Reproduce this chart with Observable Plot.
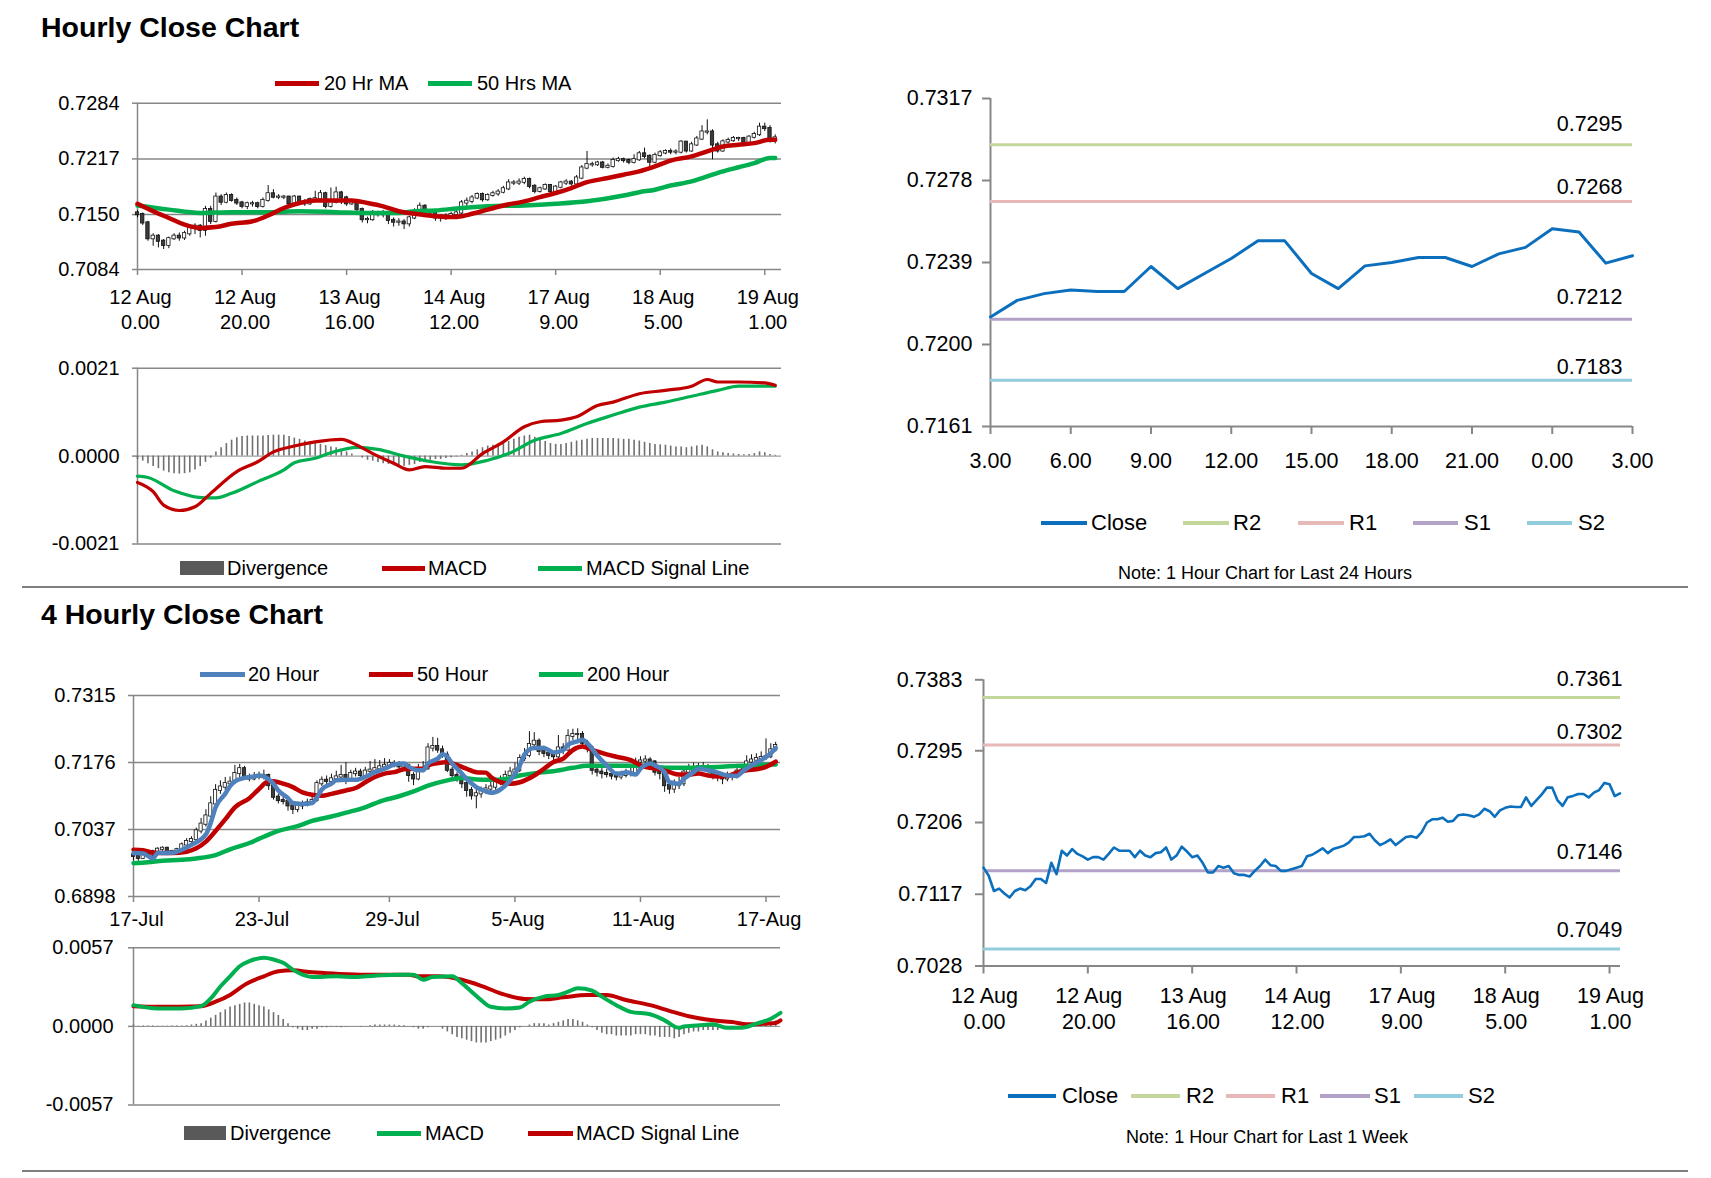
<!DOCTYPE html>
<html><head><meta charset="utf-8">
<script src="https://cdn.jsdelivr.net/npm/d3@7"></script>
<script src="https://cdn.jsdelivr.net/npm/@observablehq/plot@0.6"></script>
<style>
body{margin:0;background:#fff;}
#root{position:relative;width:1711px;height:1178px;overflow:hidden;font-family:"Liberation Sans",Arial,sans-serif;color:#000;background:#fff;}
.t{position:absolute;white-space:nowrap;}
</style></head><body><div id="root"></div><script>
// ---------------- DATA ----------------
// Hourly (1h bars, 12 Aug 0.00 -> 19 Aug 3.00)
const hourlyTickIdx = [0,20,40,60,80,100,120];
const hourlyTickDay = ["12 Aug","12 Aug","13 Aug","14 Aug","17 Aug","18 Aug","19 Aug"];
const hourlyTickTime = ["0.00","20.00","16.00","12.00","9.00","5.00","1.00"];
const hourlyFirstOpen = 0.7152;
const hourlyClose = [
0.7150,0.7140,0.7121,0.7124,0.7118,0.7113,0.7121,0.7124,0.7122,0.7127,
0.7136,0.7136,0.7131,0.7156,0.7142,0.7171,0.7165,0.7173,0.7167,0.7164,
0.7160,0.7163,0.7163,0.7160,0.7167,0.7175,0.7171,0.7171,0.7171,0.7163,
0.7171,0.7165,0.7163,0.7168,0.7169,0.7175,0.7160,0.7165,0.7176,0.7170,
0.7163,0.7165,0.7156,0.7144,0.7144,0.7152,0.7150,0.7152,0.7143,0.7141,
0.7141,0.7139,0.7146,0.7152,0.7160,0.7153,0.7152,0.7146,0.7146,0.7148,
0.7150,0.7152,0.7164,0.7166,0.7170,0.7174,0.7168,0.7173,0.7175,0.7177,
0.7181,0.7188,0.7188,0.7189,0.7192,0.7184,0.7178,0.7181,0.7185,0.7178,
0.7183,0.7188,0.7189,0.7187,0.7194,0.7206,0.7210,0.7210,0.7212,0.7207,
0.7208,0.7215,0.7216,0.7215,0.7213,0.7216,0.7223,0.7220,0.72131,0.72210,
0.72242,0.72259,0.72252,0.72252,0.72371,0.72266,0.72338,0.72409,0.72493,0.72493,
0.72338,0.72266,0.72374,0.7239,0.72414,0.72414,0.72371,0.72431,0.72462,0.72551,
0.72535,0.72387,0.72422];
const hourlyHigh = [
.7155,.7152,.7142,.7127,.7126,.7120,.7123,.7127,.7128,.7130,
.7138,.7139,.7138,.7160,.7160,.7176,.7174,.7176,.7175,.7170,
.7166,.7165,.7166,.7165,.7170,.7185,.7180,.7174,.7173,.7172,
.7173,.7172,.7168,.7170,.7178,.7179,.7177,.7182,.7183,.7178,
.7172,.7167,.7167,.7158,.7147,.7155,.7154,.7155,.7154,.7146,
.7145,.7144,.7148,.7157,.7164,.7162,.7156,.7154,.7150,.7151,
.7153,.7156,.7167,.7170,.7173,.7176,.7176,.7175,.7178,.7180,
.7184,.7192,.7191,.7193,.7195,.7194,.7186,.7183,.7187,.7186,
.7185,.7190,.7192,.7191,.7197,.7209,.7226,.7213,.7214,.7214,
.7211,.7218,.7219,.7218,.7217,.7222,.7226,.7230,.7222,.7224,
.7227,.7228,.7229,.7228,.7239,.7238,.7237,.7244,.7257,.7264,
.7252,.7237,.7240,.7242,.7244,.7243,.7243,.7245,.7249,.7260,
.7260,.7257,.7246];
const hourlyLow = [
.7146,.7137,.7118,.7112,.7110,.7108,.7109,.7119,.7118,.7119,
.7124,.7126,.7122,.7124,.7138,.7140,.7161,.7163,.7165,.7161,
.7157,.7156,.7159,.7157,.7158,.7165,.7169,.7168,.7168,.7160,
.7161,.7162,.7160,.7161,.7165,.7166,.7157,.7158,.7163,.7162,
.7160,.7161,.7152,.7140,.7139,.7142,.7147,.7146,.7138,.7135,
.7136,.7132,.7135,.7144,.7150,.7150,.7148,.7142,.7141,.7143,
.7146,.7147,.7150,.7160,.7163,.7168,.7165,.7166,.7171,.7172,
.7175,.7179,.7185,.7185,.7186,.7181,.7175,.7176,.7179,.7172,
.7176,.7181,.7185,.7184,.7185,.7192,.7204,.7207,.7208,.7205,
.7205,.7206,.7213,.7212,.7210,.7211,.7214,.7217,.7205,.7211,
.7219,.7222,.7222,.7222,.7223,.7224,.7225,.7232,.7239,.7246,
.7216,.7224,.7225,.7235,.7237,.7238,.7234,.7235,.7241,.7244,
.7250,.7236,.7235];
const ma20hIdx = [0,3,6,9,12,15,18,22,25,28,31,34,38,41,44,47,50,53,57,60,62,64,67,70,74,77,80,83,86,90,93,96,99,102,106,109,112,115,118,121,122];
const ma20hVal = [0.7163,0.7154,0.7146,0.7138,0.7134,0.7135,0.7139,0.7142,0.7149,0.7158,0.7164,0.7167,0.7167,0.7167,0.7164,0.7160,0.7154,0.7151,0.7148,0.7147,0.7148,0.7151,0.7156,0.7161,0.7166,0.7171,0.7176,0.7182,0.7189,0.7194,0.7198,0.7202,0.7208,0.7215,0.7220,0.7226,0.7232,0.7234,0.7236,0.7240,0.7240];
const ma50hIdx = [0,6,12,18,25,31,38,44,50,53,57,62,67,74,80,86,93,96,99,102,106,109,112,115,118,121,122];
const ma50hVal = [0.7161,0.7156,0.7152,0.7153,0.7153,0.7154,0.7153,0.7152,0.7152,0.7154,0.7155,0.7158,0.7160,0.7161,0.7163,0.7166,0.7173,0.7177,0.7180,0.7185,0.7190,0.7196,0.7202,0.7207,0.7212,0.7218,0.7218];
const macdHIdx = [0,3,5,8,11,14,19,23,26,30,34,39,42,45,49,52,55,59,62,66,70,74,77,81,84,88,91,96,101,106,109,111,115,120,122];
const macdHVal = [-0.00063,-0.00085,-0.00117,-0.0013,-0.00121,-0.00089,-0.00037,-0.000135,0.0001,0.00024,0.00034,0.0004,0.00026,0.00006,-0.00017,-0.00033,-0.00025,-0.00029,-0.00029,0.00006,0.00034,0.0007,0.00082,0.00086,0.00094,0.00121,0.00129,0.00149,0.00157,0.00167,0.00183,0.00177,0.00177,0.00175,0.00169];
const signalHIdx = [0,2,7,13,15,18,23,28,30,34,37,42,46,51,56,62,67,71,76,81,86,91,96,101,106,111,115,122];
const signalHVal = [-0.00048,-0.00051,-0.00083,-0.001,-0.001,-0.00089,-0.00061,-0.00033,-0.00016,-0.00005,0.00008,0.00021,0.00016,0,-0.00013,-0.00021,-0.0001,0.00006,0.00038,0.00054,0.00078,0.00098,0.00117,0.00129,0.00143,0.00157,0.00167,0.00167];
const divH = [
-0.00008,-0.00012,-0.00018,-0.00025,-0.0003,-0.00036,-0.0004,-0.00042,-0.00043,-0.00042,
-0.0004,-0.00033,-0.00025,-0.00015,-0.00005,0.0001,0.0002,0.0003,0.00038,0.00044,
0.00047,0.00048,0.00048,0.00048,0.00048,0.00049,0.0005,0.0005,0.0005,0.00047,
0.00043,0.0004,0.00036,0.00033,0.0003,0.00028,0.00025,0.00022,0.0002,0.00015,
0.0001,0.00005,0,-0.00005,-0.0001,-0.00012,-0.00015,-0.00018,-0.0002,-0.00023,
-0.00025,-0.00025,-0.00022,-0.0002,-0.00015,-0.00012,-0.0001,-0.00008,-0.00008,-0.00006,
-0.00004,-0.00002,0.00002,0.00006,0.0001,0.00015,0.0002,0.00024,0.00026,0.00028,
0.0003,0.00035,0.0004,0.00045,0.00048,0.0005,0.00045,0.0004,0.00035,0.0003,
0.00028,0.00028,0.0003,0.00033,0.00036,0.00038,0.0004,0.00042,0.00042,0.00042,
0.00042,0.00042,0.00041,0.0004,0.0004,0.00038,0.00036,0.00033,0.0003,0.00028,
0.00027,0.00026,0.00024,0.00022,0.00022,0.0002,0.00022,0.00024,0.00026,0.00022,
0.00015,0.0001,0.00008,0.00006,0.00005,0.00004,0.00003,0.00004,0.00006,0.0001,
0.00008,0.00004,0.00002];
// 24h chart
const ticks24Label = ["3.00","6.00","9.00","12.00","15.00","18.00","21.00","0.00","3.00"];
const levels24 = [{name:"R2",v:0.7295},{name:"R1",v:0.7268},{name:"S1",v:0.7212},{name:"S2",v:0.7183}];
const levelsWeek = [{name:"R2",v:0.7361},{name:"R1",v:0.7302},{name:"S1",v:0.7146},{name:"S2",v:0.7049}];
// 4-hour bars (17 Jul -> 17 Aug)
const h4TickIdx = [0,26,53,79,105,131];
const h4TickLabel = ["17-Jul","23-Jul","29-Jul","5-Aug","11-Aug","17-Aug"];
const h4FirstOpen = 0.6984;
const h4Close = [
0.6981,0.6977,0.6987,0.6984,0.6991,0.6996,0.6998,0.6991,0.6988,0.6995,
0.7005,0.7012,0.7016,0.7034,0.7048,0.7065,0.7090,0.7118,0.7125,0.7132,
0.7135,0.7153,0.7163,0.7146,0.7142,0.7146,0.7148,0.7149,0.7128,0.7104,
0.7097,0.7095,0.7086,0.7079,0.7086,0.7089,0.7092,0.7097,0.7132,0.7139,
0.7137,0.7142,0.7146,0.7149,0.7139,0.7153,0.7156,0.7149,0.7158,0.7160,
0.7163,0.7167,0.7170,0.7174,0.7172,0.7167,0.7170,0.7149,0.7142,0.7160,
0.7163,0.7206,0.7209,0.7202,0.7191,0.7160,0.7149,0.7146,0.7132,0.7118,
0.7107,0.7111,0.7118,0.7121,0.7125,0.7135,0.7139,0.7149,0.7156,0.7160,
0.7184,0.7191,0.7213,0.7220,0.7199,0.7195,0.7191,0.7188,0.7206,0.7202,
0.7230,0.7234,0.7234,0.7216,0.7206,0.7160,0.7156,0.7153,0.7151,0.7148,
0.7146,0.7149,0.7153,0.7155,0.7177,0.7179,0.7181,0.7177,0.7156,0.7153,
0.7128,0.7121,0.7128,0.7132,0.7156,0.7160,0.7163,0.7167,0.7167,0.7163,
0.7149,0.7146,0.7142,0.7148,0.7146,0.7158,0.7160,0.7177,0.7181,0.7184,
0.7186,0.7188,0.7202,0.7211];
const h4High = [
.6988,.6984,.6990,.6992,.6994,.6999,.7001,.7000,.6994,.6998,
.7009,.7018,.7022,.7040,.7060,.7078,.7105,.7130,.7138,.7145,
.7146,.7170,.7172,.7168,.7152,.7155,.7156,.7160,.7152,.7132,
.7110,.7104,.7100,.7092,.7094,.7096,.7100,.7110,.7138,.7146,
.7148,.7152,.7158,.7170,.7176,.7160,.7164,.7162,.7166,.7178,
.7182,.7180,.7184,.7182,.7180,.7178,.7176,.7172,.7155,.7172,
.7178,.7215,.7228,.7226,.7210,.7198,.7166,.7155,.7150,.7138,
.7124,.7120,.7125,.7130,.7136,.7142,.7148,.7158,.7166,.7175,
.7192,.7205,.7240,.7238,.7225,.7210,.7203,.7198,.7232,.7215,
.7244,.7245,.7246,.7240,.7222,.7210,.7168,.7165,.7162,.7158,
.7155,.7158,.7162,.7166,.7185,.7188,.7190,.7186,.7180,.7162,
.7156,.7135,.7140,.7145,.7166,.7172,.7175,.7174,.7176,.7172,
.7168,.7155,.7152,.7156,.7155,.7165,.7170,.7190,.7192,.7194,
.7198,.7225,.7215,.7218];
const h4Low = [
.6972,.6971,.6975,.6979,.6981,.6988,.6992,.6987,.6983,.6985,
.6992,.7001,.7008,.7012,.7028,.7042,.7060,.7085,.7110,.7118,
.7124,.7130,.7140,.7140,.7136,.7138,.7140,.7140,.7118,.7098,
.7090,.7088,.7075,.7068,.7072,.7078,.7084,.7088,.7094,.7126,
.7130,.7132,.7136,.7140,.7130,.7135,.7146,.7142,.7145,.7152,
.7155,.7158,.7160,.7164,.7165,.7160,.7158,.7135,.7128,.7138,
.7155,.7160,.7198,.7195,.7185,.7155,.7142,.7135,.7122,.7104,
.7098,.7080,.7102,.7110,.7115,.7118,.7128,.7132,.7142,.7150,
.7155,.7178,.7186,.7205,.7190,.7186,.7182,.7178,.7182,.7192,
.7198,.7222,.7220,.7206,.7196,.7150,.7146,.7142,.7144,.7140,
.7138,.7140,.7144,.7146,.7150,.7170,.7172,.7168,.7148,.7140,
.7114,.7110,.7112,.7120,.7126,.7150,.7152,.7156,.7158,.7154,
.7140,.7136,.7130,.7136,.7138,.7142,.7152,.7156,.7172,.7176,
.7178,.7180,.7184,.7198];
const ma20_4hIdx = [0,2,4,5,8,10,12,15,16,17,19,20,21,23,25,26,28,29,30,32,33,35,37,38,39,41,42,44,46,48,50,52,54,56,57,59,60,61,63,64,65,66,68,69,71,73,74,76,78,80,81,83,85,87,89,90,92,93,94,96,98,100,101,102,104,105,107,108,110,111,113,114,116,117,119,121,123,125,126,128,130,132,133];
const ma20_4hVal = [.6988,.6987,.6977,.6988,.6989,.6995,.7005,.7027,.7051,.7083,.7111,.7127,.7137,.7144,.7147,.7149,.7141,.7132,.7118,.7102,.7092,.7090,.7092,.7104,.7120,.7132,.7139,.7140,.7140,.7146,.7156,.7163,.7172,.7174,.7167,.7160,.7160,.7174,.7184,.7193,.7188,.7174,.7153,.7142,.7125,.7116,.7113,.7120,.7139,.7170,.7193,.7206,.7206,.7197,.7202,.7213,.7220,.7223,.7216,.7191,.7170,.7153,.7153,.7156,.7151,.7163,.7174,.7170,.7156,.7135,.7132,.7142,.7156,.7163,.7160,.7155,.7149,.7148,.7156,.7170,.7181,.7195,.7206];
const ma50_4hIdx = [0,2,4,8,11,13,15,17,19,21,24,26,28,29,31,33,35,37,39,41,44,46,48,50,52,54,56,58,60,61,64,65,66,68,69,71,73,74,76,78,80,83,85,87,89,91,93,94,96,98,100,103,105,107,109,111,113,115,117,119,121,123,125,127,129,131,133];
const ma50_4hVal = [.6995,.6994,.6989,.6988,.6991,.6998,.7012,.7034,.7058,.7083,.7102,.7121,.7137,.7137,.7132,.7125,.7114,.7109,.7107,.7111,.7118,.7123,.7135,.7146,.7153,.7156,.7162,.7163,.7163,.7170,.7176,.7177,.7174,.7167,.7163,.7156,.7155,.7146,.7135,.7132,.7135,.7149,.7163,.7177,.7184,.7202,.7209,.7206,.7199,.7193,.7188,.7181,.7170,.7165,.7162,.7156,.7151,.7151,.7153,.7149,.7147,.7148,.7155,.7160,.7162,.7167,.7178];
const ma200_4hIdx = [0,3,6,10,13,17,20,24,27,30,34,37,41,44,48,51,55,58,61,65,68,70,74,77,80,84,87,91,94,98,101,105,108,111,115,118,122,125,129,132,133];
const ma200_4hVal = [.6967,.6969,.6972,.6974,.6977,.6984,.6996,.7009,.7022,.7034,.7044,.7055,.7064,.7072,.7083,.7095,.7106,.7116,.7128,.7139,.7144,.7142,.7140,.7142,.7149,.7155,.7158,.7165,.7169,.7169,.7169,.7169,.7167,.7165,.7165,.7166,.7167,.7169,.7170,.7172,.7172];
const macd4hIdx = [0,5,10,14,16,18,20,22,24,27,29,31,33,35,37,42,46,50,55,58,60,62,66,68,70,72,74,77,80,82,85,88,90,92,95,97,100,103,107,110,113,114,118,120,123,126,129,132,134];
const macd4hVal = [0.00154,0.0013,0.0013,0.00147,0.00203,0.00289,0.00363,0.00436,0.00473,0.00498,0.00485,0.00461,0.00412,0.00375,0.00358,0.00363,0.00358,0.00368,0.00375,0.00375,0.00338,0.00358,0.00363,0.00314,0.00252,0.00191,0.00142,0.0013,0.00137,0.00179,0.00216,0.00228,0.00252,0.00277,0.0026,0.00216,0.00154,0.00105,0.00088,0.00044,-0.0001,0,0.0001,0.00015,-0.0001,-0.0001,0.0002,0.00056,0.00098];
const signal4hIdx = [0,5,14,17,20,23,27,30,33,37,42,48,57,59,63,68,72,76,81,85,89,94,98,102,107,111,115,120,124,127,131,133,134];
const signal4hVal = [0.00147,0.00142,0.00147,0.00179,0.00228,0.00301,0.00363,0.004,0.00407,0.00392,0.00382,0.00375,0.00375,0.00363,0.00363,0.00338,0.00294,0.0024,0.00199,0.00196,0.00211,0.00228,0.00228,0.00191,0.00154,0.00113,0.00074,0.00044,0.00032,0.00015,0.0002,0.00025,0.00044];
const div4h = [
0.0001,0.00002,0.00002,0.00002,0.00002,0.00002,0.00002,0.00002,0.00002,0.00002,
0.00003,0.00005,0.0001,0.00015,0.0002,0.0004,0.0006,0.0008,0.001,0.0012,
0.0014,0.0015,0.0016,0.0017,0.0017,0.0016,0.0015,0.0014,0.0012,0.001,
0.0008,0.0005,0.0002,-0.0001,-0.0002,-0.0003,-0.0003,-0.0002,-0.0002,-0.0001,
-0.0001,-0.00005,-0.00005,-0.0001,-0.00005,0,0,-0.00005,0,0.00005,
0.0001,0.0001,0.0001,0.0001,0.0001,0.00005,0.00005,0,-0.0001,-0.0002,
-0.0002,-0.0001,0,0,-0.0002,-0.0004,-0.0006,-0.0008,-0.0009,-0.001,
-0.0011,-0.0012,-0.0012,-0.0012,-0.0011,-0.001,-0.0009,-0.0007,-0.0005,-0.0003,
-0.0001,0,0.0001,0.0002,0.0002,0.0002,0.0001,0.0002,0.0003,0.0004,
0.0005,0.0005,0.0004,0.0003,0.0001,-0.0001,-0.0003,-0.0005,-0.0006,-0.0006,
-0.0007,-0.0007,-0.0007,-0.0007,-0.0006,-0.0006,-0.0006,-0.0007,-0.0007,-0.0008,
-0.0008,-0.0008,-0.0009,-0.0008,-0.0006,-0.0005,-0.0004,-0.0004,-0.0003,-0.0003,
-0.0003,-0.0003,-0.0002,-0.0002,-0.0002,-0.0001,0,0.0001,0.0001,0.0002,
0.0002,0.0003,0.0003,0.0004];

// ---------------- HELPERS ----------------
const root = document.getElementById("root");
const FONT = '"Liberation Sans", Arial, sans-serif';
const GRID = "#878787";
const RED = "#c00000", GREEN = "#00b050", BLUE = "#4f81bd", CLOSE = "#0b6fbd";
const LVL = {R2:"#c3d69b", R1:"#e6b9b8", S1:"#b3a2c7", S2:"#93cddd"};
const fmt4 = d => d.toFixed(4);

function place(svg, left, top){
  svg.style.position = "absolute"; svg.style.left = left + "px"; svg.style.top = top + "px";
  root.appendChild(svg);
}
function chart(opts, left, top){
  const svg = Plot.plot({...opts, style:{background:"transparent", overflow:"visible", fontFamily:FONT, maxWidth:"none", color:"#000"}});
  place(svg, left, top);
}
function label(str, left, cy, size, extra){
  const d = document.createElement("div");
  d.className = "t"; d.textContent = str;
  d.style.fontSize = size + "px"; d.style.lineHeight = size + "px";
  d.style.left = left + "px"; d.style.top = (cy - size/2) + "px";
  if (extra) Object.assign(d.style, extra);
  root.appendChild(d);
}
function leg(cy, size, items){
  for (const it of items){
    const h = it.box ? 14 : (it.h || 5);
    const s = document.createElement("div");
    s.style.cssText = `position:absolute;left:${it.x}px;top:${cy-h/2}px;width:${it.w}px;height:${h}px;background:${it.color};`;
    root.appendChild(s);
    label(it.label, it.tx, cy, size);
  }
}
function hline(top){
  const s = document.createElement("div");
  s.style.cssText = `position:absolute;left:22px;top:${top}px;width:1666px;height:2px;background:#7f7f7f;`;
  root.appendChild(s);
}
const pts = (xs, ys) => xs.map((x,k) => ({x, y: ys[k]}));
function candles(close, high, low, firstOpen, half){
  const data = close.map((c,i) => ({i, open: i===0 ? firstOpen : close[i-1], close:c, high:high[i], low:low[i]}));
  return [
    Plot.ruleX(data, {x:"i", y1:"low", y2:"high", stroke:"#111", strokeWidth:1}),
    Plot.rect(data, {x1: d => d.i - half, x2: d => d.i + half, y1:"open", y2:"close",
      fill: d => d.close >= d.open ? "white" : "#3c3c3c", stroke:"#111", strokeWidth:0.8,
      insetTop:-0.6, insetBottom:-0.6})
  ];
}
// per-level label offsets above the level lines (px)
function levelLabels(levels, xEnd, dx, offsets){
  return levels.map(l => Plot.text([l], {x:xEnd, y:"v", text:d=>fmt4(d.v), textAnchor:"end", dx, dy:offsets[l.name], fontSize:21.5, fill:"black"}));
}

// ---------------- TITLES / SEPARATORS ----------------
label("Hourly Close Chart", 41, 27, 28.5, {fontWeight:"bold"});
label("4 Hourly Close Chart", 41, 614, 28.5, {fontWeight:"bold"});
hline(586);
hline(1170);

// ---------------- P1: hourly candles ----------------
const p1Ticks = [0.7084, 0.7150, 0.7217, 0.7284];
chart({
  width:800, height:250, marginLeft:137, marginRight:19, marginTop:12.7, marginBottom:71,
  x:{domain:[0,123.2]}, y:{domain:[0.7084,0.7284]},
  marks:[
    Plot.ruleY(p1Ticks, {stroke:GRID, strokeWidth:1.5}),
    Plot.ruleX([0], {stroke:GRID, strokeWidth:1.5}),
    Plot.axisY(p1Ticks, {tickSize:5, tickPadding:13, stroke:GRID, strokeWidth:1.5, fill:"black", fontSize:20, tickFormat:fmt4, label:null}),
    Plot.axisX(hourlyTickIdx, {tickSize:6, stroke:GRID, strokeWidth:1.5, tickFormat:() => "", label:null}),
    Plot.text(hourlyTickIdx, {x:d=>d, frameAnchor:"bottom", dx:3, dy:34, text:(d,i)=>hourlyTickDay[i], fontSize:20, fill:"black"}),
    Plot.text(hourlyTickIdx, {x:d=>d, frameAnchor:"bottom", dx:3, dy:59, text:(d,i)=>hourlyTickTime[i], fontSize:20, fill:"black"}),
    ...candles(hourlyClose, hourlyHigh, hourlyLow, hourlyFirstOpen, 0.32),
    Plot.line(pts(ma50hIdx, ma50hVal), {x:"x", y:"y", stroke:GREEN, strokeWidth:4.5, curve:"monotone-x"}),
    Plot.line(pts(ma20hIdx, ma20hVal), {x:"x", y:"y", stroke:RED, strokeWidth:4.5, curve:"monotone-x"})
  ]
}, 0, 90);
leg(83, 20, [
  {x:275, w:44, color:RED, tx:324, label:"20 Hr MA"},
  {x:428, w:44, color:GREEN, tx:477, label:"50 Hrs MA"}
]);

// ---------------- P2: hourly MACD ----------------
const p2Ticks = [-0.0021, 0, 0.0021];
chart({
  width:800, height:210, marginLeft:137, marginRight:19, marginTop:17.7, marginBottom:16.5,
  x:{domain:[0,123.2], axis:null}, y:{domain:[-0.0021,0.0021]},
  marks:[
    Plot.ruleY([-0.0021, 0.0021], {stroke:GRID, strokeWidth:1.5}),
    Plot.ruleY([0], {stroke:GRID, strokeWidth:1}),
    Plot.ruleX([0], {stroke:GRID, strokeWidth:1.5}),
    Plot.axisY(p2Ticks, {tickSize:5, tickPadding:13, stroke:GRID, strokeWidth:1.5, fill:"black", fontSize:20, tickFormat:fmt4, label:null}),
    Plot.ruleX(divH.map((v,i)=>({i,v})), {x:"i", y1:0, y2:"v", stroke:"#6f6f6f", strokeWidth:1.6}),
    Plot.line(pts(signalHIdx, signalHVal), {x:"x", y:"y", stroke:GREEN, strokeWidth:3.2, curve:"monotone-x"}),
    Plot.line(pts(macdHIdx, macdHVal), {x:"x", y:"y", stroke:RED, strokeWidth:3.2, curve:"monotone-x"})
  ]
}, 0, 350);
leg(568, 20, [
  {x:180, w:44, color:"#595959", box:true, tx:227, label:"Divergence"},
  {x:382, w:43, color:RED, tx:428, label:"MACD"},
  {x:538, w:44, color:GREEN, tx:586, label:"MACD Signal Line"}
]);

// ---------------- P3: last 24 hours ----------------
const close24 = hourlyClose.slice(-25).map((v,i)=>({i, v}));
const p3Ticks = [0.7161, 0.7200, 0.7239, 0.7278, 0.7317];
const p3X = [0,3,6,9,12,15,18,21,24];
chart({
  width:800, height:400, marginLeft:140, marginRight:18, marginTop:18, marginBottom:54,
  x:{domain:[0,24]}, y:{domain:[0.7161,0.7317]},
  marks:[
    Plot.ruleX([0], {stroke:GRID, strokeWidth:2}),
    Plot.ruleY([0.7161], {stroke:GRID, strokeWidth:2}),
    Plot.axisY(p3Ticks, {tickSize:8, tickPadding:10, stroke:GRID, strokeWidth:2, fill:"black", fontSize:21.5, tickFormat:fmt4, label:null}),
    Plot.axisX(p3X, {tickSize:8, stroke:GRID, strokeWidth:2, tickFormat:()=>"", label:null}),
    Plot.text(p3X, {x:d=>d, frameAnchor:"bottom", dy:41, text:(d,i)=>ticks24Label[i], fontSize:21.5, fill:"black"}),
    Plot.ruleY(levels24, {y:"v", stroke:d=>LVL[d.name], strokeWidth:3}),
    ...levelLabels(levels24, 24, -10, {R2:-21, R1:-14, S1:-22, S2:-13}),
    Plot.line(close24, {x:"i", y:"v", stroke:CLOSE, strokeWidth:3})
  ]
}, 850, 80);
leg(523, 22, [
  {x:1041, w:46, color:CLOSE, h:4, tx:1091, label:"Close"},
  {x:1183, w:46, color:LVL.R2, h:4, tx:1233, label:"R2"},
  {x:1298, w:46, color:LVL.R1, h:4, tx:1349, label:"R1"},
  {x:1413, w:45, color:LVL.S1, h:4, tx:1464, label:"S1"},
  {x:1527, w:45, color:LVL.S2, h:4, tx:1578, label:"S2"}
]);
label("Note: 1 Hour Chart for Last 24 Hours", 1265, 573, 18, {transform:"translateX(-50%)"});

// ---------------- P4: 4-hour candles ----------------
const p4Ticks = [0.6898, 0.7037, 0.7176, 0.7315];
chart({
  width:800, height:260, marginLeft:133, marginRight:20, marginTop:15, marginBottom:44,
  x:{domain:[0,134]}, y:{domain:[0.6898,0.7315]},
  marks:[
    Plot.ruleY(p4Ticks, {stroke:GRID, strokeWidth:1.5}),
    Plot.ruleX([0], {stroke:GRID, strokeWidth:1.5}),
    Plot.axisY(p4Ticks, {tickSize:5, tickPadding:13, stroke:GRID, strokeWidth:1.5, fill:"black", fontSize:20, tickFormat:fmt4, label:null}),
    Plot.axisX(h4TickIdx, {tickSize:6, stroke:GRID, strokeWidth:1.5, tickFormat:()=>"", label:null}),
    Plot.text(h4TickIdx, {x:d=>d, frameAnchor:"bottom", dx:3, dy:29, text:(d,i)=>h4TickLabel[i], fontSize:20, fill:"black"}),
    ...candles(h4Close, h4High, h4Low, h4FirstOpen, 0.33),
    Plot.line(pts(ma200_4hIdx, ma200_4hVal), {x:"x", y:"y", stroke:GREEN, strokeWidth:4.5, curve:"monotone-x"}),
    Plot.line(pts(ma50_4hIdx, ma50_4hVal), {x:"x", y:"y", stroke:RED, strokeWidth:4.5, curve:"monotone-x"}),
    Plot.line(pts(ma20_4hIdx, ma20_4hVal), {x:"x", y:"y", stroke:BLUE, strokeWidth:4.5, curve:"monotone-x"})
  ]
}, 0, 680);
leg(674, 20, [
  {x:200, w:45, color:BLUE, tx:248, label:"20 Hour"},
  {x:369, w:44, color:RED, tx:417, label:"50 Hour"},
  {x:539, w:44, color:GREEN, tx:587, label:"200 Hour"}
]);

// ---------------- P5: 4-hour MACD ----------------
const p5Ticks = [-0.0057, 0, 0.0057];
chart({
  width:800, height:180, marginLeft:133, marginRight:20, marginTop:12.3, marginBottom:10.5,
  x:{domain:[0,134], axis:null}, y:{domain:[-0.0057,0.0057]},
  marks:[
    Plot.ruleY([-0.0057, 0.0057], {stroke:GRID, strokeWidth:1.5}),
    Plot.ruleY([0], {stroke:GRID, strokeWidth:1}),
    Plot.ruleX([0], {stroke:GRID, strokeWidth:1.5}),
    Plot.axisY(p5Ticks, {tickSize:5, tickPadding:15, stroke:GRID, strokeWidth:1.5, fill:"black", fontSize:20, tickFormat:fmt4, label:null}),
    Plot.ruleX(div4h.map((v,i)=>({i,v})), {x:"i", y1:0, y2:"v", stroke:"#6f6f6f", strokeWidth:1.6}),
    Plot.line(pts(signal4hIdx, signal4hVal), {x:"x", y:"y", stroke:RED, strokeWidth:4, curve:"monotone-x"}),
    Plot.line(pts(macd4hIdx, macd4hVal), {x:"x", y:"y", stroke:GREEN, strokeWidth:4, curve:"monotone-x"})
  ]
}, 0, 935);
leg(1133, 20, [
  {x:184, w:42, color:"#595959", box:true, tx:230, label:"Divergence"},
  {x:377, w:44, color:GREEN, tx:425, label:"MACD"},
  {x:528, w:45, color:RED, tx:576, label:"MACD Signal Line"}
]);

// ---------------- P6: last week hourly close ----------------
const closeWeek = hourlyClose.map((v,i)=>({i, v}));
const p6Ticks = [0.7028, 0.7117, 0.7206, 0.7295, 0.7383];
chart({
  width:780, height:400, marginLeft:123, marginRight:20, marginTop:19.3, marginBottom:94.5,
  x:{domain:[0,122.1]}, y:{domain:[0.7028,0.7383]},
  marks:[
    Plot.ruleX([0], {stroke:GRID, strokeWidth:2}),
    Plot.ruleY([0.7028], {stroke:GRID, strokeWidth:2}),
    Plot.axisY(p6Ticks, {tickSize:8, tickPadding:13, stroke:GRID, strokeWidth:2, fill:"black", fontSize:21.5, tickFormat:fmt4, label:null}),
    Plot.axisX(hourlyTickIdx, {tickSize:8, stroke:GRID, strokeWidth:2, tickFormat:()=>"", label:null}),
    Plot.text(hourlyTickIdx, {x:d=>d, frameAnchor:"bottom", dx:1, dy:37, text:(d,i)=>hourlyTickDay[i], fontSize:21.5, fill:"black"}),
    Plot.text(hourlyTickIdx, {x:d=>d, frameAnchor:"bottom", dx:1, dy:63, text:(d,i)=>hourlyTickTime[i], fontSize:21.5, fill:"black"}),
    Plot.ruleY(levelsWeek, {y:"v", stroke:d=>LVL[d.name], strokeWidth:3}),
    ...levelLabels(levelsWeek, 122.1, 2, {R2:-18.5, R1:-13, S1:-18.5, S2:-18.5}),
    Plot.line(closeWeek, {x:"i", y:"v", stroke:CLOSE, strokeWidth:2.6})
  ]
}, 860, 660);
leg(1096, 22, [
  {x:1008, w:48, color:CLOSE, h:4, tx:1062, label:"Close"},
  {x:1131, w:49, color:LVL.R2, h:4, tx:1186, label:"R2"},
  {x:1226, w:49, color:LVL.R1, h:4, tx:1281, label:"R1"},
  {x:1320, w:50, color:LVL.S1, h:4, tx:1374, label:"S1"},
  {x:1414, w:49, color:LVL.S2, h:4, tx:1468, label:"S2"}
]);
label("Note: 1 Hour Chart for Last 1 Week", 1267, 1137, 18, {transform:"translateX(-50%)"});
</script></body></html>
